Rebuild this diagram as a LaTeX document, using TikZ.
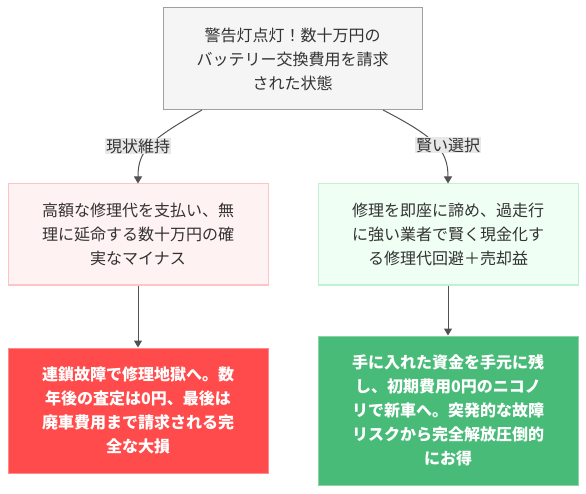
\documentclass[tikz,border=0pt]{standalone}
\usepackage{fontspec}
\setmainfont{Noto Sans CJK JP}
\usetikzlibrary{arrows.meta}
\definecolor{topfill}{HTML}{F5F5F5}
\definecolor{topdraw}{HTML}{A0A0A0}
\definecolor{pinkfill}{HTML}{FFF2F2}
\definecolor{pinkdraw}{HTML}{FFC4C4}
\definecolor{mintfill}{HTML}{F0FFF4}
\definecolor{mintdraw}{HTML}{C2F0D2}
\definecolor{redfill}{HTML}{FF4B4B}
\definecolor{reddraw}{HTML}{FF8A8A}
\definecolor{greenfill}{HTML}{48BB78}
\definecolor{greendraw}{HTML}{8AD4A6}
\definecolor{labfill}{HTML}{E8E8E8}
\definecolor{txt}{HTML}{333333}
\begin{document}
\begin{tikzpicture}[x=1pt,y=-1pt,
  box/.style={draw, line width=1pt, inner sep=0pt, align=center, text=txt,
    font=\fontsize{16}{24}\selectfont},
  boldbox/.style={box, text=white, font=\fontsize{16}{24}\selectfont\bfseries},
  elabel/.style={fill=labfill, inner sep=1pt, text=txt, font=\fontsize{16}{20}\selectfont},
  conn/.style={draw=txt!85, line width=1pt, -{Triangle[length=7pt,width=8pt]}}]
\useasboundingbox (0,0) rectangle (586,494);
\node[box, fill=topfill, draw=topdraw, minimum width=259pt, minimum height=102pt] (top) at (292.5,59)
  {警告灯点灯！数十万円の\\バッテリー交換費用を請求\\された状態};
\node[box, fill=pinkfill, draw=pinkdraw, minimum width=260pt, minimum height=101pt] (keep) at (138,234.5)
  {高額な修理代を支払い、無\\理に延命する数十万円の確\\実なマイナス};
\node[box, fill=mintfill, draw=mintdraw, minimum width=260pt, minimum height=101pt] (sell) at (448,234.5)
  {修理を即座に諦め、過走行\\に強い業者で賢く現金化す\\る修理代回避＋売却益};
\node[boldbox, fill=redfill, draw=reddraw, minimum width=260pt, minimum height=125pt] (loss) at (138,410.5)
  {連鎖故障で修理地獄へ。数\\年後の査定は0円、最後は\\廃車費用まで請求される完\\全な大損};
\node[boldbox, fill=greenfill, draw=greendraw, minimum width=260pt, minimum height=149pt] (gain) at (448,410.5)
  {手に入れた資金を手元に残\\し、初期費用0円のニコノ\\リで新車へ。突発的な故障\\リスクから完全解放圧倒的\\にお得};
\coordinate (sL) at (202,110);
\coordinate (sR) at (383,110);
\draw[conn] (sL) .. controls (150,140) and (138,150) .. (keep.north);
\draw[conn] (sR) .. controls (435,137) and (448,150) .. (sell.north);
\node[elabel] (lk) at (138,146) {現状維持};
\node[elabel] (ls) at (448,145) {賢い選択};
\draw[conn] (keep.south) -- (loss.north);
\draw[conn] (sell.south) -- (gain.north);
\end{tikzpicture}
\end{document}
